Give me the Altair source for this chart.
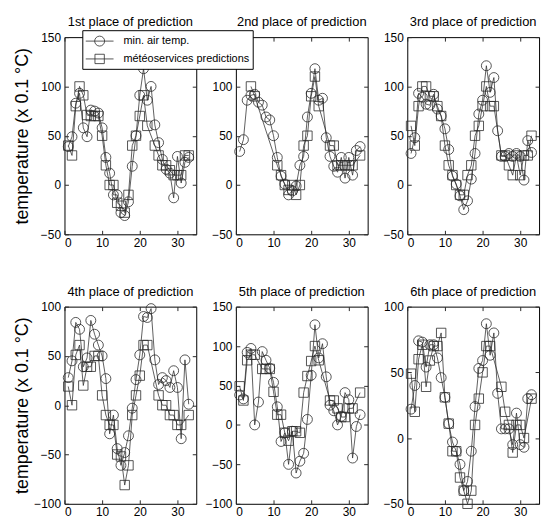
import altair as alt
import pandas as pd

days = list(range(1, 34))
panel_titles = ["1st place of prediction", "2nd place of prediction", "3rd place of prediction",
                "4th place of prediction", "5th place of prediction", "6th place of prediction"]
series_names = ["min. air temp.", "météoservices predictions"]
x_ticks = [0, 10, 20, 30]

p1_min = [39, 49, 83, 93, 58, 49, 76, 75, 73, 58, 28, 12, -10, -10, -28, -31, -17, 19, 50, 91, 118, 86, 100, 61, 43, 26, 16, 12, -13, 29, 2, 23, 28]
p1_pred = [40, 30, 80, 100, 91, 71, 70, 70, 70, 50, 20, 0, 0, -18, -21, -28, -10, 40, 50, 70, 91, 60, None, 40, 30, 20, 20, 15, 10, 10, 10, 30, 30]
p2_min = [34, 46, 86, 91, 92, 84, 81, 69, 66, 50, 28, 9, 1, -10, -6, -1, 20, 29, 69, 93, 118, 86, 88, 48, 29, 19, 13, 28, 7, 28, 10, 35, 39]
p2_pred = [None, None, None, 100, 90, None, None, None, None, None, 20, 10, 0, -5, 0, -10, 0, 40, 50, 90, 110, 80, None, None, 40, 40, 20, 20, 20, 20, 20, None, 30]
p3_min = [32, 48, 93, 89, 82, 81, 92, 77, 70, 57, 36, 9, 1, -11, -25, -16, 6, 32, 72, 86, 121, 94, 109, 55, 29, 29, 32, 29, 32, 29, 5, 45, 33]
p3_pred = [60, 40, 80, 100, 100, 90, 90, 80, 70, 40, 20, 10, 0, -10, -10, 10, 20, 50, 60, 80, 100, 80, 80, None, 30, 30, 20, 10, 30, 10, 30, 30, 50]
p4_min = [28, 45, 84, 77, 39, 48, 86, 72, 61, 50, 27, -29, -10, -44, -61, -48, -31, -3, 26, 51, 90, 89, 98, 46, 21, 28, 25, 18, 35, 18, -34, 46, 1]
p4_pred = [19, 0, 51, 61, 20, 39, 39, 50, 50, 10, -10, -20, -20, -50, -52, -81, -61, -10, 10, 30, 61, 61, None, None, 10, 0, 0, -10, -10, -20, -20, None, -10]
p5_min = [38, 33, 92, 97, 0, 29, 93, 82, 72, 54, 23, -21, -10, -50, -8, -61, -46, -36, 7, 63, 127, 85, 103, 61, 25, 18, 0, 11, 41, 32, -42, -2, 13]
p5_pred = [49, 31, 82, 89, 89, None, 71, 71, 71, 42, 13, 13, -10, -20, -8, -8, -10, 41, 62, 81, 100, 82, None, None, 31, 31, 21, 10, 10, 21, 21, None, 41]
p6_min = [22, 40, 74, 73, 54, 71, 71, 61, 46, 31, 11, -3, -10, -20, -40, -33, -10, 24, 53, 59, 87, 63, 80, 34, 7, 7, 7, -5, 19, -5, -7, 30, 33]
p6_pred = [49, 20, 60, 71, 39, 59, 70, 70, 80, 31, 11, -10, -10, -30, -40, -50, -40, 10, 30, 50, 70, 70, None, None, 39, 20, 10, -11, 10, 10, 0, None, 30]

y_domains = [[-50, 150], [-50, 150], [-50, 150], [-100, 100], [-100, 150], [-50, 100]]

FONT = "Liberation Sans"
INK = "#2a2a2a"
PATH_C = "M-1.87,0L1.87,0M-0.67,0A0.67,0.67,0,1,0,0.67,0A0.67,0.67,0,1,0,-0.67,0Z"
PATH_S = "M-1.87,0L1.87,0M-0.63,-0.63L0.63,-0.63L0.63,0.63L-0.63,0.63Z"


def panel_df(mins, preds):
    rows = []
    for d, m, p in zip(days, mins, preds):
        if m is not None:
            rows.append({"day": d, "series": series_names[0], "temp": m})
        if p is not None:
            rows.append({"day": d, "series": series_names[1], "temp": p})
    return pd.DataFrame(rows)


def panel(idx, mins, preds, with_legend=False):
    ydom = y_domains[idx]
    yticks = list(range(ydom[0], ydom[1] + 1, 50))
    first_col = idx % 3 == 0
    df = panel_df(mins, preds)
    xs = alt.Scale(domain=[0, 35], nice=False, zero=False)
    ys = alt.Scale(domain=ydom, nice=False, zero=False)
    ax_bottom = alt.Axis(orient="bottom", values=x_ticks, domain=False, grid=False, tickSize=4, offset=-4,
                         tickColor=INK, labelPadding=3, title=None, format="d")
    ax_top = alt.Axis(orient="top", values=x_ticks, domain=False, grid=False, tickSize=4, offset=-4,
                      tickColor=INK, labels=False, title=None, minExtent=0, maxExtent=0)
    ax_left = alt.Axis(orient="left", values=yticks, domain=False, grid=False, tickSize=4, offset=-4,
                       tickColor=INK, labelPadding=4, format="d",
                       title="temperature (x 0.1 °C)" if first_col else None,
                       minExtent=32, maxExtent=32, titlePadding=5)
    ax_right = alt.Axis(orient="right", values=yticks, domain=False, grid=False, tickSize=4, offset=-4,
                        tickColor=INK, labels=False, title=None, minExtent=0, maxExtent=0)
    base = alt.Chart(df)
    lines = base.mark_line(color=INK, strokeWidth=0.75).encode(
        x=alt.X("day:Q", scale=xs, axis=ax_bottom),
        y=alt.Y("temp:Q", scale=ys, axis=ax_left),
        detail="series:N",
        order="day:Q",
    )
    circles = base.transform_filter(alt.datum.series == series_names[0]).mark_point(
        shape="circle", size=100, filled=False, color=INK, strokeWidth=0.8, opacity=1
    ).encode(
        x=alt.X("day:Q", scale=xs, axis=ax_top),
        y=alt.Y("temp:Q", scale=ys, axis=ax_right),
    )
    squares = base.transform_filter(alt.datum.series == series_names[1]).mark_point(
        shape="square", size=90, filled=False, color=INK, strokeWidth=0.8, opacity=1
    ).encode(
        x=alt.X("day:Q", scale=xs, axis=None),
        y=alt.Y("temp:Q", scale=ys, axis=None),
    )
    layers = [lines, circles, squares]
    if with_legend:
        dummy = base.mark_point(opacity=0, filled=False).encode(
            x=alt.X("day:Q", scale=xs, axis=None),
            y=alt.Y("temp:Q", scale=ys, axis=None),
            shape=alt.Shape(
                "series:N",
                scale=alt.Scale(domain=series_names, range=[PATH_C, PATH_S]),
                legend=alt.Legend(
                    orient="none", legendX=18, legendY=-7, title=None, direction="vertical",
                    symbolSize=225, symbolStrokeColor=INK, symbolFillColor="transparent",
                    symbolStrokeWidth=0.8, symbolOpacity=1, symbolOffset=6.5,
                    labelOffset=16, labelFont=FONT, labelFontSize=11, labelColor="black",
                    padding=3, rowPadding=3, strokeColor="black", fillColor="white",
                ),
            ),
        )
        layers.append(dummy)
    return alt.layer(*layers).resolve_axis(x="independent", y="independent").properties(
        width=133, height=199,
        title=alt.Title(panel_titles[idx], fontSize=13, fontWeight="normal", font=FONT, color="black",
                        offset=-8, baseline="alphabetic"),
    )


panels = [
    panel(0, p1_min, p1_pred, with_legend=True),
    panel(1, p2_min, p2_pred),
    panel(2, p3_min, p3_pred),
    panel(3, p4_min, p4_pred),
    panel(4, p5_min, p5_pred),
    panel(5, p6_min, p6_pred),
]

chart = alt.concat(*panels, columns=3, spacing={"row": 73, "column": 40}, bounds="flush").configure(
    background="white"
).configure_view(
    stroke="black", strokeWidth=1
).configure_axis(
    labelFont=FONT, labelFontSize=12, labelColor="black", titleFont=FONT, titleFontSize=18,
    titleFontWeight="normal", titleColor="black",
)

chart.save("out.html", embed_options={"renderer": "svg", "actions": False})
